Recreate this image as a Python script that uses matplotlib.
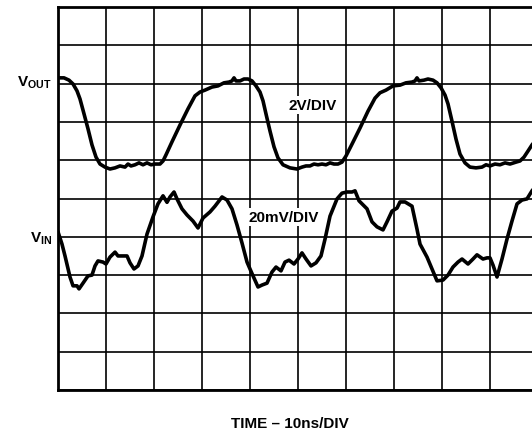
import matplotlib
matplotlib.use('Agg')
import matplotlib.pyplot as plt

plt.rcParams['font.family'] = ['Liberation Sans', 'DejaVu Sans']
plt.rcParams['mathtext.fontset'] = 'custom'
plt.rcParams['mathtext.rm'] = 'Liberation Sans'
plt.rcParams['mathtext.bf'] = 'Liberation Sans:bold'

# time in divisions (10ns/DIV), amplitude in screen divisions
vout_t = [0, 0.125, 0.229, 0.313, 0.396, 0.458, 0.542, 0.625, 0.708, 0.792, 0.875, 0.979,
          1.083, 1.188, 1.292, 1.396, 1.458, 1.521, 1.604, 1.688, 1.771, 1.854, 1.938, 2.021,
          2.125, 2.188, 2.25, 2.375, 2.542, 2.708, 2.854, 2.958, 3.063, 3.208, 3.333, 3.458,
          3.563, 3.625, 3.667, 3.708, 3.792, 3.875, 3.958, 4.042, 4.125, 4.208, 4.271, 4.333,
          4.417, 4.5, 4.583, 4.688, 4.833, 4.979, 5.083, 5.167, 5.25, 5.333, 5.417, 5.5,
          5.583, 5.667, 5.75, 5.833, 5.917, 6.0, 6.125, 6.292, 6.458, 6.604, 6.708, 6.833,
          6.979, 7.125, 7.25, 7.375, 7.438, 7.479, 7.521, 7.625, 7.708, 7.813, 7.896, 7.979,
          8.063, 8.125, 8.208, 8.292, 8.375, 8.479, 8.583, 8.708, 8.833, 8.917, 9.0, 9.104,
          9.208, 9.313, 9.417, 9.542, 9.625, 9.708, 9.792, 9.875, 10.0]
vout_v = [8.15, 8.15, 8.09, 7.99, 7.81, 7.60, 7.21, 6.82, 6.40, 6.08, 5.90, 5.82,
          5.77, 5.80, 5.85, 5.82, 5.90, 5.85, 5.88, 5.93, 5.88, 5.93, 5.88, 5.90,
          5.90, 5.98, 6.14, 6.48, 6.92, 7.34, 7.68, 7.78, 7.83, 7.91, 7.94, 8.02,
          8.04, 8.07, 8.15, 8.07, 8.07, 8.12, 8.12, 8.07, 7.94, 7.78, 7.55, 7.21,
          6.76, 6.35, 6.06, 5.88, 5.80, 5.77, 5.82, 5.85, 5.85, 5.90, 5.88, 5.90,
          5.88, 5.93, 5.90, 5.90, 5.95, 6.11, 6.42, 6.84, 7.28, 7.62, 7.76, 7.83,
          7.94, 7.96, 8.02, 8.04, 8.07, 8.15, 8.07, 8.09, 8.12, 8.09, 8.02, 7.89,
          7.70, 7.47, 7.02, 6.55, 6.16, 5.93, 5.82, 5.80, 5.82, 5.88, 5.85, 5.90,
          5.88, 5.93, 5.90, 5.95, 5.98, 6.08, 6.24, 6.40, 6.60]

vin_t = [0, 0.083, 0.146, 0.25, 0.313, 0.396, 0.438, 0.521, 0.625, 0.708, 0.771, 0.833,
         0.938, 1.0, 1.083, 1.188, 1.25, 1.354, 1.438, 1.5, 1.583, 1.667, 1.75, 1.854,
         1.979, 2.083, 2.188, 2.271, 2.333, 2.417, 2.479, 2.583, 2.688, 2.813, 2.917, 3.021,
         3.167, 3.271, 3.417, 3.521, 3.625, 3.729, 3.833, 3.938, 4.0, 4.063, 4.167, 4.25,
         4.354, 4.458, 4.542, 4.646, 4.729, 4.813, 4.917, 5.0, 5.083, 5.167, 5.271, 5.375,
         5.479, 5.563, 5.667, 5.813, 5.917, 6.021, 6.125, 6.188, 6.271, 6.438, 6.542, 6.646,
         6.771, 6.854, 6.958, 7.063, 7.125, 7.229, 7.375, 7.479, 7.542, 7.688, 7.792, 7.896,
         8.021, 8.125, 8.229, 8.333, 8.417, 8.542, 8.646, 8.729, 8.854, 8.938, 9.0, 9.063,
         9.146, 9.25, 9.354, 9.458, 9.563, 9.667, 9.771, 9.875, 10.0]
vin_v = [4.13, 3.81, 3.50, 2.95, 2.72, 2.72, 2.64, 2.79, 2.98, 3.00, 3.24, 3.37,
         3.34, 3.29, 3.47, 3.60, 3.50, 3.50, 3.50, 3.32, 3.16, 3.24, 3.50, 4.07,
         4.52, 4.86, 5.07, 4.90, 5.04, 5.17, 4.99, 4.73, 4.57, 4.41, 4.23, 4.49,
         4.65, 4.80, 5.04, 4.96, 4.73, 4.31, 3.84, 3.34, 3.16, 2.98, 2.69, 2.74,
         2.79, 3.08, 3.21, 3.11, 3.34, 3.39, 3.29, 3.42, 3.58, 3.42, 3.24, 3.32,
         3.50, 3.94, 4.54, 4.99, 5.14, 5.17, 5.17, 5.20, 4.94, 4.73, 4.39, 4.26,
         4.18, 4.39, 4.67, 4.75, 4.91, 4.91, 4.80, 4.20, 3.81, 3.47, 3.16, 2.85,
         2.87, 3.00, 3.21, 3.34, 3.42, 3.29, 3.42, 3.53, 3.42, 3.45, 3.45, 3.26,
         2.95, 3.42, 3.94, 4.41, 4.86, 4.96, 4.99, 5.20, 5.40]

fig = plt.figure(figsize=(5.32, 4.31), dpi=100)
ax = fig.add_axes([58 / 532, 40 / 431, 480 / 532, 383 / 431])
ax.set_xlim(0, 10)
ax.set_ylim(0, 10)
ax.set_xticks(range(11))
ax.set_yticks(range(11))
ax.tick_params(length=0, labelbottom=False, labelleft=False)
ax.grid(True, color='black', linewidth=1.2)
ax.set_axisbelow(True)
for s in ax.spines.values():
    s.set_linewidth(2.0)

ax.plot(vout_t, vout_v, color='black', linewidth=2.6, solid_capstyle='round',
        solid_joinstyle='round', zorder=3)
ax.plot(vin_t, vin_v, color='black', linewidth=2.6, solid_capstyle='round',
        solid_joinstyle='round', zorder=3)

box = dict(facecolor='white', edgecolor='none', pad=1.5)
fig.text(0.588, 0.754, '2V/DIV', fontsize=11, fontweight='bold', ha='center', va='center',
         bbox=box, zorder=5)
fig.text(0.533, 0.494, '20mV/DIV', fontsize=11, fontweight='bold', ha='center', va='center',
         bbox=box, zorder=5)
fig.text(0.0977, 0.800, r'$\mathbf{V_{OUT}}$', fontsize=11, ha='right', va='baseline')
fig.text(0.0977, 0.436, r'$\mathbf{V_{IN}}$', fontsize=11, ha='right', va='baseline')
fig.text(0.545, 0.0174, 'TIME \u2013 10ns/DIV', fontsize=11, fontweight='bold',
         ha='center', va='center')

fig.savefig('out.png', dpi=100)
